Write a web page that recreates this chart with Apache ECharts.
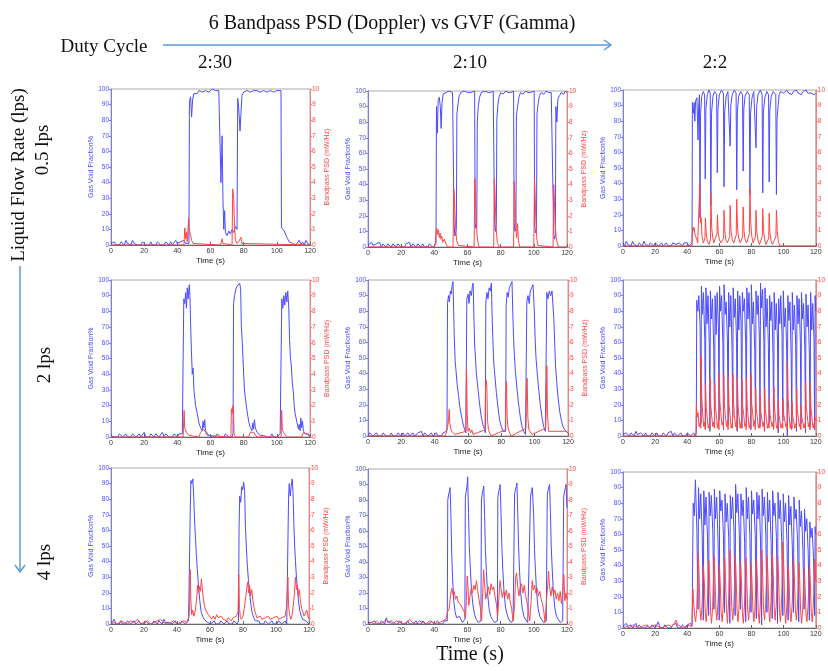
<!DOCTYPE html>
<html>
<head>
<meta charset="utf-8">
<script src="https://cdn.jsdelivr.net/npm/echarts@6/dist/echarts.min.js"></script>
<style>html,body{margin:0;padding:0;background:#fff}#main{width:828px;height:671px}</style>
</head>
<body>
<div id="main"></div>
<script>
// column / row headings
var dutyCycles = ['2:30', '2:10', '2:2'];
var flowRates = ['0.5 lps', '2 lps', '4 lps'];

// ---- 0.5 lps, 2:30 ----
var gvfA = [[0,1],[1,0],[2,2],[3,0],[4,1],[5,0],[6,2],[7,1],[8,0],[9,3],[10,1],[11,2],[12,0],[13,3],[14,1],[15,2],[16,0],[17,1],[18,0],[19,2],[20,1],[21,0],[22,1],[23,0],[24,2],[25,0],[26,1],[27,0],[28,2],[29,1],[30,0],[31,1],[32,0],[33,2],[34,1],[35,0],[36,2],[37,0],[38,1],[39,3],[40,1],[41,0],[42,2],[43,1],[44,3],[45,1],[46,2],[47,1],
  [47.3,92],[48,95],[48.6,82],[49.2,93],[50,97],[51,98],[52,97],[53,99],[55,98],[57,99],[59,98],[61,100],[63,99],[65,99],[66,100],[66.3,40],[67,70],[67.5,30],[68,10],[68.5,22],[69,8],[70,6],[71,9],[72,7],[73,10],[74,8],[75,12],[76,10],
  [76.4,94],[77,88],[77.8,73],[78.4,85],[79,96],[80,98],[82,99],[84,98],[86,99],[88,99],[90,98],[92,99],[94,98],[96,99],[98,98],[100,99],[102.5,99],[102.8,11],[103.5,10],[104.5,9],[105.5,6],[106.5,4],[107.5,2],[108.5,3],[109.5,1],[110.5,2],[111.5,0],[112.5,1],[113.5,3],[114.5,0],[115.5,2],[116.5,0],[117.5,3],[118.5,1],[119.5,2],[120,0]];
var psdA = [[0,0],[44,0],[44.5,1.1],[45,0.4],[45.5,0.8],[46,0.2],[46.8,1.7],[47.3,0.9],[48,0.6],[48.6,0.3],[49.5,0.1],[50.5,0],[66,0],[67,0.4],[67.5,0.1],[68,0],[73,0],[73.4,3.6],[74,3.0],[74.5,1.2],[75,0.3],[76,0.1],[77.5,0.3],[78.3,0.5],[79,0.1],[80,0],[120,0]];

// ---- 0.5 lps, 2:10 ----
var gvfB = [[0,1],[1,0],[2,3],[3,1],[4,0],[5,2],[6,1],[7,3],[8,0],[9,2],[10,1],[11,0],[12,2],[13,1],[14,0],[15,2],[16,1],[17,0],[18,2],[19,1],[20,0],[21,1],[22,0],[23,2],[24,1],[25,3],[26,0],[27,2],[28,1],[29,0],[30,2],[31,1],[32,0],[33,2],[34,0],[35,1],[36,0],[37,2],[38,1],[39,0],[40,1],[41,2],
  [41.3,90],[41.8,73],[42.3,94],[43,96],[43.6,90],[44.1,76],[44.6,92],[45.3,98],[46,97],[47,99],[48,98],[49,100],[50,99],[51,99],[51.6,100],
  [51.9,15],[52.4,7],[53,10],[53.3,12],[53.6,85],[54.3,92],[55,97],[56,99],[57,98],[58,100],[59,99],[60,99],[61,100],[62,99],[63,99],[64.3,100],
  [64.6,16],[65,12],[65.6,14],[65.9,80],[66.5,90],[67.3,96],[68.3,99],[69.5,98],[71,100],[72.5,99],[74,99],[75.5,100],[76,99],
  [76.3,17],[76.8,10],[77.4,15],[77.7,82],[78.3,91],[79,96],[80,99],[81.5,98],[83,100],[84.5,99],[86,99],[87.8,100],
  [88.1,16],[88.6,10],[89.2,12],[89.5,84],[90.2,90],[91,96],[92,99],[93.5,98],[95,100],[96.5,99],[98,99],[100.2,100],
  [100.5,14],[101,9],[101.6,11],[101.9,85],[102.6,92],[103.4,97],[104.5,99],[106,98],[107.5,100],[109,99],[110.5,99],[111.7,100],
  [112,8],[112.5,5],[113,8],[113.3,90],[113.9,80],[114.5,95],[115.5,97],[116.5,99],[118,98],[119,100],[120,99]];
var psdB = [[0,0],[40,0],[40.7,0.3],[41,0.9],[41.5,1.2],[42,0.8],[42.5,1.1],[43,0.6],[43.5,0.9],[44,0.5],[44.5,0.7],[45,0.3],[46,0.5],[47,0.2],[48,0],[51.3,0],[51.7,3.7],[52.1,3.2],[52.5,2.0],[53,1.0],[53.5,0.4],[54.5,0.1],[55,0],
  [64,0],[64.4,4.4],[64.8,3.5],[65.2,2.2],[65.7,0.8],[66.3,0.3],[67,0],[75.8,0],[76.2,4.4],[76.6,3.4],[77,2.0],[77.5,0.8],[78,0.3],[79,0],
  [87.8,0],[88.2,4.2],[88.6,3.2],[89,1.8],[89.6,0.6],[90.2,1.5],[90.7,0.4],[91.5,0],[100,0],[100.4,4.4],[100.8,3.3],[101.2,1.8],[101.8,0.5],[102.5,0.1],[103,0],
  [111.6,0],[112,4.0],[112.4,3.0],[112.8,1.5],[113.5,0.6],[114,0.3],[115,0],[120,0]];

// ---- 0.5 lps, 2:2 ----
var gvfC = [[0,2],[1,0],[2,3],[3,1],[4,2],[5,0],[6,3],[7,1],[8,2],[9,0],[10,2],[11,1],[12,0],[13,3],[14,1],[15,2],[16,0],[17,2],[18,1],[19,0],[20,2],[21,1],[22,0],[23,1],[24,2],[25,0],[26,1],[27,2],[28,0],[29,1],[30,0],[31,2],[32,3],[33,1],[34,0],[35,2],[36,1],[37,0],[38,2],[39,1],[40,2],[41,0],[42,1],[43,2],
  [43.2,92],[43.8,85],[44.3,92],[44.7,80],[45.2,93],[46,95],[46.7,68],[47.1,90],[47.6,97],[47.9,18],[48.3,85],[49,96],[50,99],[50.8,97],[51.2,43],[51.6,88],[52.5,97],[53.5,100],[54.3,98],[54.7,26],[55.1,85],[56,96],[57,99],[58.3,97],[58.7,47],[59.1,88],[60,97],[61.3,100],[62.5,98],[62.9,38],[63.3,86],[64.2,96],[65.3,99],[66.3,98],[66.7,64],[67.1,90],[68,97],[69.3,100],[70.4,98],[70.8,36],[71.2,86],[72,96],[73.3,99],[74.4,97],[74.8,48],[75.2,88],[76,96],[77.3,99],[78.6,97],[79,33],[79.4,85],[80.3,95],[81.4,99],[82.4,98],[82.8,63],[83.2,89],[84,97],[85.5,100],[86.6,97],[87,34],[87.4,86],[88.3,95],[89.5,99],[90.6,97],[91,41],[91.4,87],[92.3,96],[93.5,99],[95.1,97],[95.5,33],[95.9,82],[96.6,90],[97.2,97],
  [98,99],[99,100],[100,98],[101,99],[102,100],[103,98],[104,99],[105,97],[106,99],[107,98],[108,100],[109,98],[110,99],[111,97],[112,99],[113,98],[114,100],[115,98],[116,99],[117,98],[118,99],[119,97],[120,98]];
var psdC = [[0,0],[43,0],[43.3,1.2],[43.8,1.0],[44.2,1.2],[44.7,0.8],[45.3,0.6],[46,0.4],[46.5,0.2],[47.4,0.3],[47.8,4.0],[48.2,1.5],[48.7,1.8],[49.2,0.6],[50,0.2],[51,0.5],[51.3,1.8],[51.8,0.8],[52.5,0.3],[53.5,0.1],[54.4,0.4],[54.7,3.4],[55.2,1.2],[55.8,0.6],[56.5,0.2],[57.5,0.1],[58.5,0.8],[58.8,2.0],[59.3,0.9],[60,0.4],[61,0.2],[62.6,0.5],[62.9,2.3],[63.4,1.0],[64,0.4],[65,0.2],[66.4,0.6],[66.7,2.6],[67.2,1.0],[68,0.4],[69,0.2],[70.5,0.7],[70.8,3.0],[71.3,1.2],[72,0.5],[73,0.2],[74.5,0.6],[74.8,2.5],[75.3,1.0],[76,0.4],[77,0.2],[78.7,0.8],[79,3.7],[79.5,1.5],[80.2,0.6],[81,0.2],[82.5,0.6],[82.8,2.3],[83.3,0.9],[84,0.4],[85,0.1],[86.7,0.6],[87,2.4],[87.5,1.0],[88.2,0.4],[89,0.1],[90.7,0.5],[91,2.1],[91.5,0.8],[92.2,0.3],[93,0.1],[95.2,0.6],[95.5,2.3],[96,1.0],[96.7,0.3],[97.5,0],[120,0]];

// ---- 2 lps, 2:30 ----
var gvfD = [[0,1],[1,2],[2,0],[3,1],[4,0],[5,2],[6,1],[7,0],[8,1],[9,2],[10,0],[11,1],[12,0],[13,2],[14,1],[15,0],[16,1],[17,2],[18,0],[19,1],[20,3],[21,0],[22,1],[23,0],[24,2],[25,1],[26,0],[27,2],[28,1],[29,0],[30,1],[31,3],[32,0],[33,2],[34,1],[35,0],[36,1],[37,0],[38,2],[39,1],[40,0],[41,2],[42,1],[43,2],
  [43.6,2],[43.9,88],[44.5,85],[45,92],[45.5,82],[46,95],[46.5,88],[47.2,97],[47.6,90],[48,72],[48.5,55],[49,40],[49.5,44],[50,30],[50.5,25],[51,20],[52,15],[53,9],[54,6],[55,4],[55.5,10],[56,6],[56.5,11],[57,4],[58,3],[59,1],[60,2],[61,0],[62,1],[63,0],[64,2],[65,1],[66,0],[67,1],[68,0],[69,2],[70,1],[71,0],[72,1],[73,0],
  [73.6,2],[73.9,85],[74.5,90],[75.3,94],[76,96],[77,97],[77.6,98],[78.2,94],[78.6,70],[79.2,60],[80,40],[80.5,30],[81,25],[82,17],[83,10],[84,6],[85,4],[85.5,9],[86,5],[86.5,11],[87,6],[88,3],[89,2],[90,1],[91,0],[92,1],[93,2],[94,0],[95,1],[96,0],[97,2],[98,0],[99,1],[100,0],[101,1],[102,2],[102.7,1],
  [103,88],[103.6,82],[104.2,90],[104.8,84],[105.4,92],[106,86],[106.6,93],[107.2,82],[107.7,62],[108.2,50],[108.7,46],[109.3,35],[110,28],[110.5,20],[111,15],[112,10],[113,5],[113.5,8],[114,4],[114.5,12],[115,6],[115.5,10],[116,4],[117,2],[118,1],[119,2],[120,0]];
var psdD = [[0,0],[43.5,0],[43.8,0.9],[44.1,1.7],[44.4,0.6],[45,0.5],[45.5,0.3],[46,0.4],[47,0.1],[48,0],[53,0],[54,0.3],[55,0.4],[56,0.5],[57,0.3],[58,0.1],[59,0],[72.3,0],[72.6,1.8],[73.1,1.5],[73.5,2.0],[73.9,1.6],[74.2,0.2],[75,0],[83,0],[84,0.3],[85,0.4],[86,0.3],[87,0.2],[88,0],[102.6,0],[102.9,1.7],[103.3,0.5],[104,0.3],[105,0.2],[106,0],[115,0],[116,0.3],[117,0.4],[118,0.2],[119,0.1],[120,0]];

// ---- 2 lps, 2:10 ----
var gvfE = [[0,0],[1,2],[2,1],[3,0],[4,1],[5,2],[6,0],[7,1],[8,0],[9,2],[10,1],[11,0],[12,1],[13,0],[14,2],[15,0],[16,1],[17,0],[18,2],[19,1],[20,0],[21,2],[22,0],[23,1],[24,2],[25,0],[26,1],[27,2],[28,0],[29,1],[30,2],[31,1],[32,3],[33,0],[34,2],[35,1],[36,0],[37,1],[38,2],[39,0],[40,1],[41,2],[42,0],[43,1],[44,0],[45,2],[46,1],[47,3],
  [47.4,5],[47.7,85],[48.3,90],[48.8,86],[49.4,93],[50,91],[50.5,97],[51,99],[51.4,80],[51.8,62],[52.3,48],[52.8,42],[53.5,33],[54.3,26],[55.2,18],[56.2,12],[57.2,7],[58,4],[58.7,2],
  [59,3],[59.3,88],[60,91],[60.6,85],[61.2,93],[62,90],[62.6,96],[63.1,98],[63.5,78],[64,58],[64.5,50],[65,40],[66,30],[67,20],[68,12],[69,7],[70,4],
  [70.4,2],[70.7,86],[71.4,92],[72,88],[72.7,95],[73.4,93],[74,98],[74.4,80],[74.9,62],[75.4,48],[76,40],[77,28],[78,18],[79,10],[80,6],[81,3],[82,2],
  [82.6,3],[82.9,84],[83.5,92],[84.1,89],[84.8,95],[85.6,94],[86.4,99],[86.8,82],[87.3,64],[87.8,52],[88.4,42],[89.4,30],[90.4,20],[91.4,12],[92.4,6],[93.4,3],[94.5,1],
  [95,2],[95.3,86],[96,90],[96.7,85],[97.4,93],[98.2,95],[99,97],[99.4,98],[99.8,80],[100.3,62],[100.8,50],[101.4,42],[102.4,30],[103.4,20],[104.4,12],[105.4,6],[106.4,3],
  [107,2],[107.3,92],[108,88],[108.8,93],[109.6,90],[110.4,93],[111.1,92],[111.5,75],[112,60],[112.5,45],[113.2,35],[114,25],[115,16],[116,10],[117,6],[118,4],[119,3],[120,2]];
var psdE = [[0,0],[46,0],[47,0.2],[47.8,0.6],[48.3,1.0],[48.7,1.7],[49.1,0.8],[49.6,0.5],[50.2,0.3],[51,0.2],[52,0.1],[53,0],[58.7,0.3],[59.1,4.3],[59.5,1.5],[60,0.3],[60.7,0.5],[61.5,0.2],[62.3,0.4],[63,0.1],[64,0],
  [70.2,0.4],[70.5,3.0],[70.9,3.6],[71.3,3.2],[71.7,1.0],[72.3,0.4],[73,0.2],[74,0],[82.4,0.4],[82.7,2.5],[83.1,3.5],[83.5,1.2],[84,0.5],[85,0.2],[86,0],
  [94.8,0.5],[95.1,3.0],[95.5,3.7],[95.9,1.2],[96.5,0.4],[97.5,0.3],[98.5,0.1],[99.5,0],[106.6,0.5],[107,2.0],[107.3,4.5],[107.7,1.5],[108.3,0.3],[109.5,0.2],[110.5,0.3],[111.5,0.2],[112.5,0.3],[113.5,0.2],[114.5,0.3],[115.5,0.2],[116.5,0.3],[117.5,0.2],[118.5,0.3],[119.5,0.4],[120,0.2]];

// ---- 2 lps, 2:2 ----
var gvfF = [[0,1],[1,0],[2,2],[3,1],[4,0],[5,2],[6,1],[7,0],[8,3],[9,1],[10,0],[11,2],[12,1],[13,0],[14,2],[15,0],[16,1],[17,0],[18,2],[19,1],[20,0],[21,2],[22,0],[23,1],[24,0],[25,2],[26,1],[27,0],[28,2],[29,1],[30,3],[31,0],[32,2],[33,1],[34,0],[35,1],[36,2],[37,0],[38,1],[39,0],[40,2],[41,1],[42,0],[43,1],[44,2],[45,0],
  [45.6,2],[45.9,87],[46.6,80],[47.2,90],[48.0,70],[48.5,8],[48.8,96],[49.5,78],[50.1,92],[50.9,62],[51.3,5],[51.6,95],[52.3,72],[52.9,90],[53.7,60],
  [54.1,3],[54.4,93],[55.1,75],[55.7,88],[56.5,55],[57.0,6],[57.3,90],[58.0,65],[58.6,92],[59.4,70],[59.8,10],[60.1,96],[60.8,80],[61.4,90],[62.2,58],
  [62.6,4],[62.9,97],[63.6,78],[64.2,86],[65.0,62],[65.5,7],[65.8,92],[66.5,70],[67.1,90],[67.9,55],[68.3,12],[68.6,95],[69.3,76],[69.9,88],[70.7,60],
  [71.1,3],[71.4,93],[72.1,68],[72.7,90],[73.5,72],[74.0,5],[74.3,92],[75.0,80],[75.6,88],[76.4,58],[76.8,8],[77.1,95],[77.8,75],[78.4,92],[79.2,65],
  [79.6,4],[79.9,97],[80.6,72],[81.2,86],[82.0,55],[82.5,10],[82.8,93],[83.5,78],[84.1,90],[84.9,62],[85.3,6],[85.6,98],[86.3,82],[86.9,94],[87.7,60],
  [88.1,3],[88.4,95],[89.1,70],[89.7,88],[90.5,58],[91.0,8],[91.3,90],[92.0,74],[92.6,86],[93.4,52],[93.8,5],[94.1,92],[94.8,68],[95.4,85],[96.2,60],
  [96.6,2],[96.9,88],[97.6,72],[98.2,90],[99.0,64],[99.5,10],[99.8,93],[100.5,70],[101.1,82],[101.9,55],[102.3,0],[102.6,90],[103.3,74],[103.9,86],[104.7,50],
  [105.1,5],[105.4,92],[106.1,68],[106.7,84],[107.5,58],[108.0,3],[108.3,90],[109.0,72],[109.6,88],[110.4,60],[110.8,8],[111.1,92],[111.8,75],[112.4,85],[113.2,55],
  [113.6,2],[113.9,91],[114.6,70],[115.2,84],[116.0,52],[116.5,6],[116.8,92],[117.5,68],[118.1,85],[118.9,62],[119.3,4],[119.6,90],[120,80]];
var psdF = [[0,0],[45.3,0],[45.5,0.5],[45.7,2.0],[46.1,1.2],[46.7,1.5],[47.4,0.6],[48.1,0.9],
  [48.4,0.5],[48.6,5.2],[49.0,2.6],[49.6,1.4],[50.3,0.6],[51.0,0.9],[51.2,0.4],[51.4,3.3],[51.8,1.8],[52.4,1.2],[53.1,0.5],[53.8,0.8],
  [54.0,0.4],[54.2,3.7],[54.6,2.0],[55.2,1.3],[55.9,0.6],[56.6,0.9],[56.9,0.5],[57.1,3.4],[57.5,1.9],[58.1,1.4],[58.8,0.5],[59.5,1.0],
  [59.7,0.4],[59.9,4.1],[60.3,2.2],[60.9,1.5],[61.6,0.7],[62.3,0.9],[62.5,0.5],[62.7,4.0],[63.1,2.1],[63.7,1.3],[64.4,0.6],[65.1,1.0],
  [65.4,0.4],[65.6,3.7],[66.0,2.0],[66.6,1.4],[67.3,0.5],[68.0,0.8],[68.2,0.5],[68.4,4.0],[68.8,2.2],[69.4,1.3],[70.1,0.6],[70.8,1.0],
  [71.0,0.4],[71.2,3.8],[71.6,2.0],[72.2,1.2],[72.9,0.5],[73.6,0.9],[73.9,0.5],[74.1,3.6],[74.5,1.9],[75.1,1.4],[75.8,0.6],[76.5,0.8],
  [76.7,0.4],[76.9,3.7],[77.3,2.0],[77.9,1.2],[78.6,0.5],[79.3,0.9],[79.5,0.5],[79.7,4.0],[80.1,2.1],[80.7,1.5],[81.4,0.6],[82.1,1.0],
  [82.4,0.4],[82.6,3.1],[83.0,1.7],[83.6,1.2],[84.3,0.5],[85.0,0.8],[85.2,0.5],[85.4,2.6],[85.8,1.5],[86.4,1.1],[87.1,0.6],[87.8,0.9],
  [88.0,0.4],[88.2,3.1],[88.6,1.7],[89.2,1.2],[89.9,0.5],[90.6,0.8],[90.9,0.5],[91.1,2.4],[91.5,1.4],[92.1,1.0],[92.8,0.6],[93.5,0.9],
  [93.7,0.4],[93.9,3.2],[94.3,1.8],[94.9,1.2],[95.6,0.5],[96.3,0.7],[96.5,0.4],[96.7,2.3],[97.1,1.3],[97.7,1.0],[98.4,0.5],[99.1,0.8],
  [99.4,0.5],[99.6,2.4],[100.0,1.4],[100.6,1.1],[101.3,0.6],[102.0,0.8],[102.2,0.4],[102.4,4.8],[102.8,2.4],[103.4,1.3],[104.1,0.5],[104.8,0.9],
  [105.0,0.4],[105.2,2.2],[105.6,1.3],[106.2,1.0],[106.9,0.5],[107.6,0.8],[107.9,0.5],[108.1,3.1],[108.5,1.7],[109.1,1.2],[109.8,0.6],[110.5,0.9],
  [110.7,0.4],[110.9,2.0],[111.3,1.2],[111.9,0.9],[112.6,0.5],[113.3,0.8],[113.5,0.5],[113.7,3.5],[114.1,1.9],[114.7,1.3],[115.4,0.6],[116.1,0.9],
  [116.4,0.4],[116.6,3.4],[117.0,1.8],[117.6,1.2],[118.3,0.5],[119.0,0.8],[119.2,0.5],[119.4,1.2],[120,1.0]];

// ---- 4 lps, 2:30 ----
var gvfG = [[0,0],[1,1],[2,3],[3,0],[4,1],[5,0],[6,2],[7,0],[8,1],[9,0],[10,2],[11,1],[12,0],[13,1],[14,2],[15,0],[16,1],[17,2],[18,0],[19,1],[20,0],[21,2],[22,1],[23,0],[24,1],[25,0],[26,2],[27,1],[28,0],[29,2],[30,1],[31,0],[32,3],[33,1],[34,0],[35,1],[36,2],[37,0],[38,1],[39,2],[40,0],[41,1],[42,0],[43,2],[44,1],[45,0],[46,1],[47,2],[47.7,1],
  [48,70],[48.4,92],[49,90],[49.6,93],[50.2,80],[50.7,65],[51.2,55],[51.7,45],[52.3,35],[53,25],[53.8,15],[54.6,8],[55.5,5],[56.5,3],[57.5,2],[58.5,1],[59.5,2],[60.5,0],[61.5,1],[62.5,2],[63.5,0],[64.5,1],[65.5,0],[66.5,2],[67.5,1],[68.5,0],[69.5,1],[70.5,2],[71.5,0],[72.5,1],[73.5,0],[74.5,2],[75.5,1],[76.5,0],[77.3,2],
  [77.6,60],[78,82],[78.6,78],[79.2,88],[79.8,86],[80.4,91],[81,85],[81.5,62],[82,50],[82.6,38],[83.3,28],[84,20],[84.8,12],[85.6,7],[86.5,4],[87.5,2],[88.5,1],[89.5,2],[90.5,0],[91.5,1],[92.5,0],[93.5,2],[94.5,1],[95.5,0],[96.5,1],[97.5,2],[98.5,0],[99.5,1],[100.5,0],[101.5,2],[102.5,1],[103.5,0],[104.5,1],[105.5,2],[106.5,0],[107.3,1],
  [107.6,80],[108,90],[108.6,82],[109.2,88],[109.8,93],[110.3,85],[110.8,65],[111.3,50],[111.8,40],[112.4,30],[113,22],[113.7,14],[114.5,8],[115.3,5],[116.2,3],[117,4],[118,2],[119,1],[120,0]];
var psdG = [[0,0],[2,0.1],[4,0],[6,0.2],[8,0.1],[10,0],[12,0.2],[14,0.1],[16,0.3],[18,0],[20,0.1],[22,0.2],[24,0],[26,0.1],[28,0.2],[30,0.3],[32,0.1],[34,0],[36,0.1],[38,0.2],[40,0],[42,0.1],[44,0.2],[46,0.1],
  [47.3,0.5],[47.7,1.2],[48,3.5],[48.4,1.5],[48.9,0.6],[49.5,0.9],[50.2,0.5],[51,0.8],[51.8,1.5],[52.5,2.5],[53,2.0],[53.6,2.4],[54.2,2.1],[54.8,2.9],[55.4,2.2],[56,1.6],[56.6,1.2],[57.3,0.9],[58,1.0],[59,0.6],[60,0.5],[61,0.3],[62,0.5],[63,0.3],[64,0.6],[65,0.4],[66,0.3],[67,0.5],[68,0.3],[69,0.4],[70,0.2],[71,0.4],[72,0.3],[73,0.2],[74,0.4],[75,0.3],[76,0.5],[77,0.8],
  [77.4,3.2],[77.8,1.2],[78.3,0.5],[79,0.3],[80,0.5],[80.8,1.0],[81.5,1.6],[82.2,2.2],[82.8,2.7],[83.4,2.0],[84,2.5],[84.6,1.8],[85.3,2.2],[86,1.5],[86.8,1.0],[87.5,0.7],[88.5,0.4],[89.5,0.3],[90.5,0.5],[91.5,0.3],[92.5,0.2],[93.5,0.4],[94.5,0.3],[95.5,0.5],[96.5,0.3],[97.5,0.2],[98.5,0.4],[99.5,0.3],[100.5,0.5],[101.5,0.3],[102.5,0.2],[103.5,0.4],[104.5,0.3],[105.5,0.5],
  [106.3,1.0],[106.8,2.0],[107.2,3.0],[107.6,1.2],[108.2,0.6],[109,0.3],[109.8,0.6],[110.5,1.2],[111.2,2.0],[111.8,3.0],[112.4,2.2],[113,2.5],[113.6,1.8],[114.2,2.2],[114.8,1.5],[115.5,1.0],[116.2,0.8],[117,0.5],[118,0.6],[118.7,0.9],[119.4,0.5],[120,0.3]];

// ---- 4 lps, 2:10 ----
var gvfH = [[0,1],[1,0],[2,1],[3,0],[4,2],[5,0],[6,1],[7,0],[8,2],[9,1],[10,0],[11,4],[12,1],[13,0],[14,2],[15,1],[16,0],[17,1],[18,0],[19,2],[20,1],[21,0],[22,1],[23,0],[24,2],[25,0],[26,1],[27,0],[28,1],[29,2],[30,0],[31,1],[32,0],[33,2],[34,1],[35,0],[36,1],[37,0],[38,2],[39,1],[40,0],[41,1],[42,2],[43,0],[44,1],[45,0],[46,2],[47,1],
  [47.8,2],[48.1,80],[48.7,84],[49.2,86],[49.5,88],[50,70],[50.5,45],[51,30],[51.7,15],[52.5,8],[53.4,4],[54.4,3],[55.2,5],[56,3],[57,1],[58,2],
  [58.4,3],[58.7,82],[59.3,86],[59.8,90],[60.1,95],[60.6,72],[61.1,50],[61.7,36],[62.4,22],[63.3,12],[64.3,6],[65.3,3],[66.5,1],[67.5,2],
  [68.1,2],[68.4,80],[69,85],[69.5,87],[69.8,89],[70.3,70],[70.8,48],[71.4,34],[72.1,20],[73,10],[74,5],[75,3],[76.3,1],[77.5,2],
  [78,2],[78.3,82],[78.9,86],[79.4,88],[79.7,90],[80.2,72],[80.7,50],[81.3,35],[82,21],[82.9,11],[83.9,6],[84.9,3],[86.2,1],[87.5,2],
  [88.1,2],[88.4,84],[89,87],[89.5,89],[89.8,91],[90.3,72],[90.8,50],[91.4,34],[92.1,20],[93,10],[94,5],[95,3],[96.3,1],[97.5,2],
  [97.7,2],[98,82],[98.6,86],[99.1,88],[99.4,89],[99.9,70],[100.4,48],[101,34],[101.7,20],[102.6,10],[103.6,5],[104.6,3],[105.9,1],[107.5,2],
  [107.8,2],[108.1,83],[108.7,87],[109.2,88],[109.5,90],[110,72],[110.5,50],[111.1,35],[111.8,20],[112.7,10],[113.7,5],[114.7,3],[116,1],[117.4,2],
  [117.7,3],[118,82],[118.6,86],[119.1,88],[119.4,90],[120,75]];
var psdH = [[0,0],[2,0.1],[4,0],[5,0.2],[7,0],[9,0.1],[11,0.3],[13,0.1],[15,0],[17,0.2],[19,0.1],[21,0],[23,0.1],[25,0.3],[27,0.1],[29,0],[31,0.2],[33,0.1],[35,0],[37,0.2],[39,0.1],[41,0],[43,0.1],[45,0.2],[47,0.3],
  [48,0.8],[49,1.0],[49.5,1.6],[50,2.0],[50.6,2.3],[51.2,1.9],[52,2.1],[52.8,1.6],[53.6,1.8],[54.4,1.4],[55.2,1.5],[56,1.2],[57,1.3],[58,0.8],[58.8,0.4],
  [59.3,1.5],[59.8,3.1],[60.3,2.4],[60.8,1.2],[61.5,1.8],[62.3,2.3],[63,2.0],[63.8,2.5],[64.6,2.2],[65.4,2.8],[66.2,2.1],[67,2.2],[67.8,1.0],[68.5,0.2],
  [69.2,2.0],[69.7,3.5],[70.3,2.6],[71,1.6],[71.8,2.0],[72.6,2.4],[73.4,1.9],[74.2,2.6],[75,2.2],[75.8,2.4],[76.6,1.8],[77.4,1.3],[78.2,0.5],
  [79,1.8],[79.6,2.8],[80.2,2.3],[81,1.7],[81.8,2.1],[82.6,1.8],[83.4,2.2],[84.2,1.6],[85,2.0],[85.8,1.4],[86.6,1.0],[87.5,0.2],
  [88.4,1.2],[89,3.0],[89.6,3.3],[90.3,2.4],[91,1.8],[91.8,2.4],[92.6,2.6],[93.4,2.0],[94.2,2.5],[95,1.9],[95.8,1.4],[96.6,1.0],[97.5,0.2],
  [98.4,1.5],[99,2.8],[99.6,2.2],[100.4,2.5],[101.2,2.0],[102,2.3],[102.8,1.8],[103.6,2.1],[104.4,1.6],[105.2,1.3],[106,0.8],[106.8,0.1],
  [107.6,1.5],[108.4,2.5],[108.9,3.4],[109.5,2.4],[110.3,1.8],[111.1,2.4],[111.9,1.9],[112.7,2.2],[113.5,1.6],[114.3,2.0],[115.1,1.5],[115.9,2.1],[116.7,1.3],[117.5,2.2],[118.1,3.2],[118.7,1.5],[119.4,2.0],[120,1.6]];

// ---- 4 lps, 2:2 ----
var gvfI = [[0,1],[1,0],[2,3],[3,1],[4,0],[5,2],[6,0],[7,1],[8,3],[9,0],[10,2],[11,1],[12,0],[13,1],[14,0],[15,2],[16,1],[17,0],[18,2],[19,1],[20,0],[21,1],[22,4],[23,0],[24,1],[25,0],[26,2],[27,1],[28,0],[29,1],[30,0],[31,2],[32,1],[33,3],[34,0],[35,1],[36,0],[37,2],[38,1],[39,0],[40,2],[41,1],[42,3],[43,1],
  [43.4,2],[43.7,80],[44.4,72],[45.1,95],[46.0,62],[46.7,12],[47.0,90],[47.7,70],[48.4,86],[49.3,60],[50.0,5],[50.3,88],[51.0,66],[51.7,84],[52.6,58],
  [53.3,8],[53.6,87],[54.3,72],[55.0,85],[55.9,62],[56.6,12],[56.9,89],[57.6,70],[58.3,84],[59.2,55],[59.9,5],[60.2,88],[60.9,75],[61.6,82],[62.5,60],
  [63.2,10],[63.5,86],[64.2,68],[64.9,80],[65.8,58],[66.5,3],[66.8,85],[67.5,70],[68.2,84],[69.1,62],[69.8,8],[70.1,92],[70.8,74],[71.5,86],[72.4,60],
  [73.1,12],[73.4,86],[74.1,72],[74.8,82],[75.7,55],[76.4,4],[76.7,90],[77.4,70],[78.1,84],[79.0,58],[79.7,10],[80.0,88],[80.7,73],[81.4,82],[82.3,60],
  [83.0,6],[83.3,87],[84.0,70],[84.7,85],[85.6,56],[86.3,2],[86.6,89],[87.3,72],[88.0,84],[88.9,60],[89.6,10],[89.9,87],[90.6,68],[91.3,82],[92.2,55],
  [92.9,6],[93.2,88],[93.9,72],[94.6,80],[95.5,58],[96.2,3],[96.5,87],[97.2,70],[97.9,82],[98.8,56],[99.5,8],[99.8,86],[100.5,68],[101.2,80],[102.1,55],
  [102.8,5],[103.1,85],[103.8,66],[104.5,78],[105.4,52],[106.1,10],[106.4,84],[107.1,70],[107.8,76],[108.7,55],[109.4,4],[109.7,82],[110.4,65],[111.1,75],[112.0,50],
  [112.7,12],[113.0,76],[113.7,62],[114.4,70],[115.3,48],[116.0,5],[116.3,68],[117.0,58],[117.7,64],[118.6,45],[119.3,8],[119.6,65],[120,60]];
var psdI = [[0,0],[2,0.1],[4,0],[6,0.2],[8,0.1],[10,0],[12,0.1],[14,0.2],[16,0],[18,0.1],[20,0.2],[22,0.1],[24,0],[26,0.1],[28,0.2],[30,0.1],[32,0.3],[33,0.5],[34,0.2],[36,0.1],[38,0],[40,0.2],[42,0.1],[43,0.3],
  [43.5,2.5],[44.0,1.6],[44.6,0.8],[45.2,0.4],[45.9,1.2],[46.4,3.0],[46.8,4.8],[47.3,3.6],[47.9,1.2],[48.5,0.5],[49.2,1.4],[49.7,2.8],
  [50.1,4.0],[50.6,3.0],[51.2,1.0],[51.8,0.4],[52.5,1.5],[53.0,3.0],[53.4,4.3],[53.9,3.2],[54.5,1.1],[55.1,0.3],[55.8,1.3],[56.3,3.2],
  [56.7,4.6],[57.2,3.4],[57.8,1.2],[58.4,0.5],[59.1,1.5],[59.6,2.8],[60.0,4.0],[60.5,3.0],[61.1,1.0],[61.7,0.4],[62.4,1.4],[62.9,3.1],
  [63.3,4.5],[63.8,3.3],[64.4,1.2],[65.0,0.3],[65.7,1.6],[66.2,3.4],[66.6,5.0],[67.1,3.6],[67.7,1.3],[68.3,0.5],[69.0,1.4],[69.5,3.0],
  [69.9,4.6],[70.4,3.4],[71.0,1.1],[71.6,0.4],[72.3,1.5],[72.8,2.9],[73.2,4.2],[73.7,3.1],[74.3,1.0],[74.9,0.3],[75.6,1.4],[76.1,3.0],
  [76.5,4.5],[77.0,3.3],[77.6,1.2],[78.2,0.5],[78.9,1.5],[79.4,2.8],[79.8,4.1],[80.3,3.0],[80.9,1.1],[81.5,0.4],[82.2,1.3],[82.7,3.0],
  [83.1,4.4],[83.6,3.2],[84.2,1.0],[84.8,0.3],[85.5,1.6],[86.0,3.3],[86.4,5.0],[86.9,3.6],[87.5,1.2],[88.1,0.5],[88.8,1.5],[89.3,3.1],
  [89.7,4.6],[90.2,3.4],[90.8,1.1],[91.4,0.4],[92.1,1.7],[92.6,3.6],[93.0,4.8],[93.5,3.5],[94.1,1.3],[94.7,0.5],[95.4,1.5],[95.9,3.1],
  [96.3,4.6],[96.8,3.4],[97.4,1.2],[98.0,0.4],[98.7,1.6],[99.2,3.6],[99.6,5.5],[100.1,3.9],[100.7,1.1],[101.3,0.3],[102.0,1.4],[102.5,2.8],
  [102.9,4.0],[103.4,3.0],[104.0,1.0],[104.6,0.4],[105.3,1.5],[105.8,3.0],[106.2,4.5],[106.7,3.3],[107.3,1.2],[107.9,0.5],[108.6,1.4],[109.1,2.9],
  [109.5,4.2],[110.0,3.1],[110.6,1.0],[111.2,0.3],[111.9,1.3],[112.4,2.7],[112.8,3.8],[113.3,2.8],[113.9,0.9],[114.5,0.4],[115.2,1.4],[115.7,2.8],
  [116.1,4.0],[116.6,3.0],[117.2,1.0],[117.8,0.4],[118.5,1.5],[119.0,3.0],[119.4,4.4],[120,3.0]];

var panels = [[gvfA, psdA], [gvfB, psdB], [gvfC, psdC],
              [gvfD, psdD], [gvfE, psdE], [gvfF, psdF],
              [gvfG, psdG], [gvfH, psdH], [gvfI, psdI]];

// plot boxes: left, top, width, height
var boxes = [[111, 89, 199, 156], [368, 91, 199, 156], [623, 90, 199, 156],
             [111, 280, 199, 157], [368, 280, 200, 156], [623, 280, 199, 156],
             [111, 468, 198, 156], [368, 469, 199, 155], [623, 472, 199, 156]];

var BLUE = '#4b4bff', RED = '#ff4545';
var lab = 'Liberation Sans';
var serif = 'Liberation Serif';

var grid = [], xAxis = [], yAxis = [], series = [];
panels.forEach(function (p, i) {
    var b = boxes[i];
    var lastCol = (i % 3 === 2);
    grid.push({left: b[0], top: b[1], width: b[2], height: b[3],
        show: true, borderColor: '#aaa', borderWidth: 1});
    xAxis.push({
        gridIndex: i, type: 'value', min: 0, max: 120, interval: 20,
        name: 'Time (s)', nameLocation: 'middle', nameGap: 12,
        nameTextStyle: {fontSize: 8, color: '#222', fontFamily: lab},
        axisLine: {lineStyle: {color: '#666'}},
        axisTick: {inside: true, length: 3, lineStyle: {color: '#666'}},
        axisLabel: {fontSize: 7, color: '#333', margin: 3, fontFamily: lab},
        splitLine: {show: false}
    });
    yAxis.push({
        gridIndex: i, type: 'value', position: 'left', min: 0, max: 100, interval: 10,
        name: 'Gas Void Fraction%', nameLocation: 'middle', nameGap: 16,
        nameTextStyle: {fontSize: 7, color: BLUE, fontFamily: lab},
        axisLine: {show: true, lineStyle: {color: '#7a7aff'}},
        axisTick: {show: true, length: 2, lineStyle: {color: '#7a7aff'}},
        axisLabel: {fontSize: 6.5, color: BLUE, margin: 2, fontFamily: lab},
        splitLine: {show: false}
    });
    yAxis.push({
        gridIndex: i, type: 'value', position: 'right', min: 0, max: 10, interval: 1,
        name: lastCol ? '' : 'Bandpass PSD (mW/Hz)', nameLocation: 'middle', nameGap: 12,
        nameTextStyle: {fontSize: 7, color: RED, fontFamily: lab},
        axisLine: {show: true, lineStyle: {color: '#ff7a7a'}},
        axisTick: {show: true, length: 2, lineStyle: {color: '#ff7a7a'}},
        axisLabel: {fontSize: 6.5, color: RED, margin: 2, fontFamily: lab},
        splitLine: {show: false}
    });
    series.push({
        type: 'line', xAxisIndex: i, yAxisIndex: 2 * i, data: p[0],
        showSymbol: false, lineStyle: {color: BLUE, width: 1}, itemStyle: {color: BLUE}
    });
    series.push({
        type: 'line', xAxisIndex: i, yAxisIndex: 2 * i + 1, data: p[1],
        showSymbol: false, lineStyle: {color: RED, width: 1}, itemStyle: {color: RED}
    });
});

var txt = function (text, x, y, size, rot) {
    return {type: 'text', x: x, y: y, rotation: rot || 0, z: 10,
        style: {text: text, fontSize: size, fontFamily: serif, fill: '#111',
            align: 'center', verticalAlign: 'middle'}};
};
var arrowColor = '#5b9bd5';
var graphic = [
    txt('6 Bandpass PSD (Doppler) vs GVF (Gamma)', 392, 24, 20),
    txt('Duty Cycle', 104, 47, 19),
    txt(dutyCycles[0], 215, 63, 19),
    txt(dutyCycles[1], 470, 63, 19),
    txt(dutyCycles[2], 715, 63, 19),
    txt('Liquid Flow Rate (lps)', 19, 175, 19, Math.PI / 2),
    txt(flowRates[0], 43, 150, 19, Math.PI / 2),
    txt(flowRates[1], 45, 365, 19, Math.PI / 2),
    txt(flowRates[2], 45, 562, 19, Math.PI / 2),
    txt('Time (s)', 470, 655, 20),
    {type: 'line', shape: {x1: 163, y1: 45, x2: 611, y2: 45}, style: {stroke: arrowColor, lineWidth: 1.5}},
    {type: 'polyline', shape: {points: [[604, 40], [611, 45], [604, 50]]}, style: {stroke: arrowColor, lineWidth: 1.5, fill: null}},
    {type: 'line', shape: {x1: 20, y1: 266, x2: 20, y2: 572}, style: {stroke: arrowColor, lineWidth: 1.5}},
    {type: 'polyline', shape: {points: [[15, 565], [20, 572], [25, 565]]}, style: {stroke: arrowColor, lineWidth: 1.5, fill: null}}
];

var myChart = echarts.init(document.getElementById('main'));
myChart.setOption({
    animation: false,
    backgroundColor: '#fff',
    grid: grid,
    xAxis: xAxis,
    yAxis: yAxis,
    series: series,
    graphic: graphic
});
</script>
</body>
</html>
